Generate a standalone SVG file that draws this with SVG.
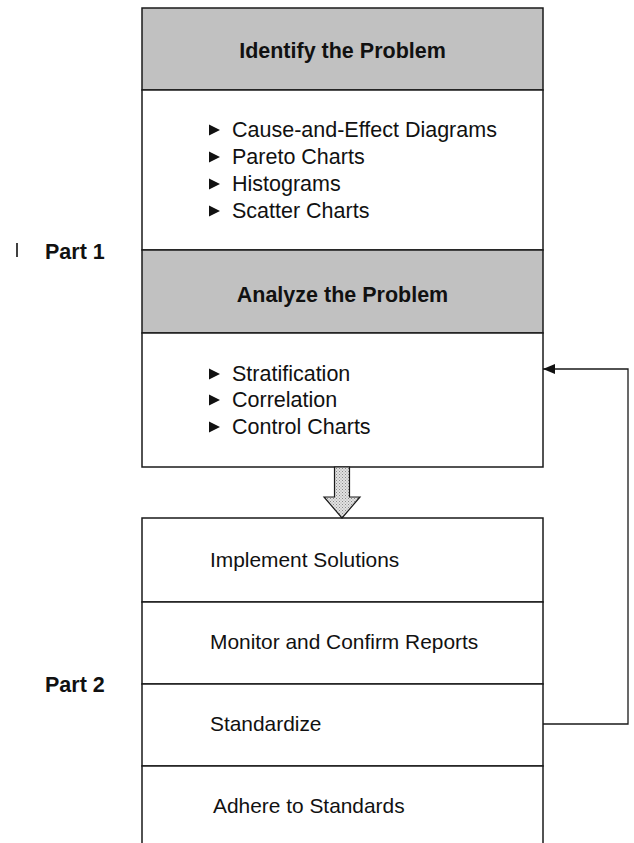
<svg xmlns="http://www.w3.org/2000/svg" width="634" height="843" viewBox="0 0 634 843">
  <style>
    .box { fill: #ffffff; stroke: #1a1a1a; stroke-width: 1.5; }
    .head { fill: #c1c1c1; stroke: #1a1a1a; stroke-width: 1.5; }
    .title { font-family: "Liberation Sans", Arial, sans-serif; font-weight: bold; font-size: 21.5px; fill: #111; text-anchor: middle; }
    .item { font-family: "Liberation Sans", Arial, sans-serif; font-size: 21.5px; fill: #111; }
    .step { font-family: "Liberation Sans", Arial, sans-serif; font-size: 20.9px; fill: #111; }
    .part { font-family: "Liberation Sans", Arial, sans-serif; font-weight: bold; font-size: 21.5px; fill: #111; }
    .bullet { fill: #111; }
    .link { stroke: #1a1a1a; stroke-width: 1.3; fill: none; }
  </style>
  <defs>
    <marker id="tri" viewBox="0 0 12 10" refX="12" refY="5" markerWidth="12" markerHeight="10" markerUnits="userSpaceOnUse" orient="auto">
      <path d="M0,0 L12,5 L0,10 z" fill="#111"/>
    </marker>
    <pattern id="stipple" width="3" height="3" patternUnits="userSpaceOnUse">
      <rect width="3" height="3" fill="#e2e2e2"/>
      <rect x="0" y="0" width="1" height="1" fill="#8a8a8a"/>
      <rect x="1.5" y="1.5" width="1" height="1" fill="#9a9a9a"/>
    </pattern>
    <path id="b" d="M0,-5.5 L11,0 L0,5.5 z"/>
  </defs>

  <!-- side labels -->
  <g id="part1">
    <line x1="17" y1="243" x2="17" y2="257" stroke="#111" stroke-width="1.6"/>
    <text class="part" x="45" y="259">Part 1</text>
  </g>
  <g id="part2">
    <text class="part" x="45" y="692">Part 2</text>
  </g>

  <!-- Part 1 stack -->
  <g id="identify">
    <rect class="head" x="142" y="8" width="401" height="82"/>
    <text class="title" x="342.5" y="58">Identify the Problem</text>
  </g>
  <g id="identify-tools">
    <rect class="box" x="142" y="90" width="401" height="160"/>
    <use href="#b" class="bullet" x="209" y="130"/>
    <text class="item" x="232" y="137">Cause-and-Effect Diagrams</text>
    <use href="#b" class="bullet" x="209" y="157"/>
    <text class="item" x="232" y="164">Pareto Charts</text>
    <use href="#b" class="bullet" x="209" y="184"/>
    <text class="item" x="232" y="191">Histograms</text>
    <use href="#b" class="bullet" x="209" y="211"/>
    <text class="item" x="232" y="218">Scatter Charts</text>
  </g>
  <g id="analyze">
    <rect class="head" x="142" y="250" width="401" height="83"/>
    <text class="title" x="342.5" y="302">Analyze the Problem</text>
  </g>
  <g id="analyze-tools">
    <rect class="box" x="142" y="333" width="401" height="134"/>
    <use href="#b" class="bullet" x="209" y="374"/>
    <text class="item" x="232" y="381">Stratification</text>
    <use href="#b" class="bullet" x="209" y="400"/>
    <text class="item" x="232" y="407">Correlation</text>
    <use href="#b" class="bullet" x="209" y="427"/>
    <text class="item" x="232" y="434">Control Charts</text>
  </g>

  <!-- Part 2 stack -->
  <g id="implement">
    <rect class="box" x="142" y="518" width="401" height="84"/>
    <text class="step" x="210" y="567">Implement Solutions</text>
  </g>
  <g id="monitor">
    <rect class="box" x="142" y="602" width="401" height="82"/>
    <text class="step" x="210" y="649">Monitor and Confirm Reports</text>
  </g>
  <g id="standardize">
    <rect class="box" x="142" y="684" width="401" height="82"/>
    <text class="step" x="210" y="731">Standardize</text>
  </g>
  <g id="adhere">
    <rect class="box" x="142" y="766" width="401" height="90"/>
    <text class="step" x="213" y="813">Adhere to Standards</text>
  </g>

  <!-- connectors -->
  <g id="connectors">
    <path d="M334.5,467 L349.5,467 L349.5,497 L360,497 L342,518 L324,497 L334.5,497 z" fill="url(#stipple)" stroke="#1a1a1a" stroke-width="1.2" stroke-linejoin="miter"/>
    <path class="link" d="M543,724 L628,724 L628,369 L543,369" marker-end="url(#tri)"/>
  </g>
</svg>
